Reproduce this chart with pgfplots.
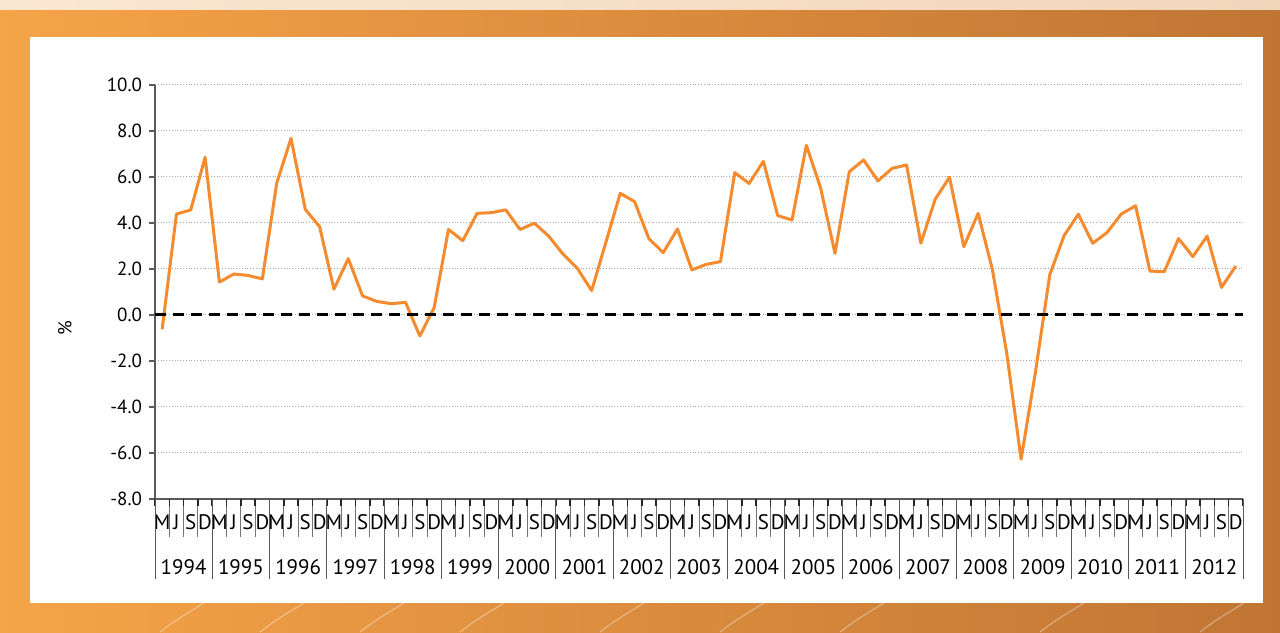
\documentclass[border=0pt]{standalone}
\usepackage{fontspec}
\setmainfont{PT Sans}
\usepackage{pgfplots}
\pgfplotsset{compat=1.18}
\definecolor{lineor}{RGB}{244,139,46}
\definecolor{bgl}{RGB}{246,164,72}
\definecolor{bgr}{RGB}{192,117,52}
\definecolor{bgtop}{RGB}{250,231,210}
\definecolor{axgray}{RGB}{90,90,90}

\begin{document}
\begin{tikzpicture}
\useasboundingbox (0pt,0pt) rectangle (640pt,316pt);
\shade[left color=bgl, right color=bgr] (0pt,0pt) rectangle (640pt,311pt);
\shade[left color=bgtop, right color=bgtop!85!bgr] (0pt,311pt) rectangle (640pt,316pt);
% faint streaks at the bottom
\foreach \s in {80,130,180,230,300,360,420,520,600} {
  \draw[white, opacity=0.35, line width=0.6pt] (\s pt,0pt) .. controls (\s pt+8pt,6pt) .. (\s pt+22pt,14.5pt);
}
\fill[white] (15pt,14.5pt) rectangle (631.5pt,297.5pt);

\begin{axis}[
    at={(77.5pt,66.5pt)}, anchor=south west,
    scale only axis,
    width=544pt, height=207pt,
    xmin=-0.5, xmax=75.5,
    ymin=-8, ymax=10,
    axis x line*=bottom, axis y line*=left,
    axis line style={axgray, line width=0.6pt},
    ytick={-8,-6,...,10},
    ymajorgrids,
    grid style={black!35, densely dotted, line width=0.5pt},
    yticklabel style={font=\fontsize{9.5}{11}\selectfont, /pgf/number format/.cd, fixed, fixed zerofill, precision=1, assume math mode=true},
    ytick style={axgray, line width=0.6pt},
    tick align=outside,
    major tick length=3pt,
    xtick={0,...,75},
    x tick style={draw=none},
    xticklabels={M,J,S,D,M,J,S,D,M,J,S,D,M,J,S,D,M,J,S,D,M,J,S,D,M,J,S,D,M,J,S,D,M,J,S,D,M,J,S,D,M,J,S,D,M,J,S,D,M,J,S,D,M,J,S,D,M,J,S,D,M,J,S,D,M,J,S,D,M,J,S,D,M,J,S,D},
    xticklabel style={font=\fontsize{10.5}{12}\selectfont, anchor=center, yshift=-8.5pt},
    ylabel={\%},
    ylabel style={at={(axis description cs:0,0.5)}, anchor=center, rotate=0, xshift=-18pt, yshift=45pt, font=\fontsize{9.5}{11}\selectfont},
    clip=false,
]
% quarter and year dividers below the axis
\pgfplotsinvokeforeach{0,...,76}{
  \draw[black!55, line width=0.45pt] (axis cs:{#1-0.5},-8) -- ++(0pt,-19pt);
  \draw[black!85, line width=0.8pt] (axis cs:{#1-0.5},-8) -- ++(0pt,-3.5pt);
}
\pgfplotsinvokeforeach{0,...,19}{
  \draw[black!65, line width=0.45pt] (axis cs:{4*#1-0.5},-8) -- ++(0pt,-40pt);
}
\pgfplotsinvokeforeach{1994,...,2012}{
  \node[font=\fontsize{10.5}{12}\selectfont] at (axis cs:{4*(#1-1994)+1.5},-8) [yshift=-34pt] {#1};
}
\addplot[lineor, line width=1.5pt, line join=round] coordinates {
(0,-0.62) (1,4.39) (2,4.57) (3,6.86) (4,1.43) (5,1.78) (6,1.72) (7,1.57)
(8,5.72) (9,7.68) (10,4.59) (11,3.84) (12,1.12) (13,2.45) (14,0.83) (15,0.59)
(16,0.49) (17,0.55) (18,-0.91) (19,0.32) (20,3.72) (21,3.23) (22,4.42) (23,4.45)
(24,4.57) (25,3.72) (26,3.99) (27,3.43) (28,2.65) (29,2.03) (30,1.06) (31,3.17)
(32,5.29) (33,4.93) (34,3.32) (35,2.71) (36,3.74) (37,1.96) (38,2.20) (39,2.32)
(40,6.19) (41,5.72) (42,6.68) (43,4.32) (44,4.13) (45,7.38) (46,5.51) (47,2.68)
(48,6.23) (49,6.74) (50,5.83) (51,6.38) (52,6.52) (53,3.12) (54,5.03) (55,5.99)
(56,2.97) (57,4.42) (58,1.96) (59,-1.67) (60,-6.27) (61,-2.5) (62,1.74) (63,3.45)
(64,4.38) (65,3.12) (66,3.58) (67,4.39) (68,4.75) (69,1.91) (70,1.88) (71,3.32)
(72,2.54) (73,3.43) (74,1.20) (75,2.13)
};
\addplot[black, line width=1.5pt, dash pattern=on 5.5pt off 3.5pt] coordinates {(-0.5,0) (75.5,0)};
\end{axis}
\end{tikzpicture}
\end{document}
